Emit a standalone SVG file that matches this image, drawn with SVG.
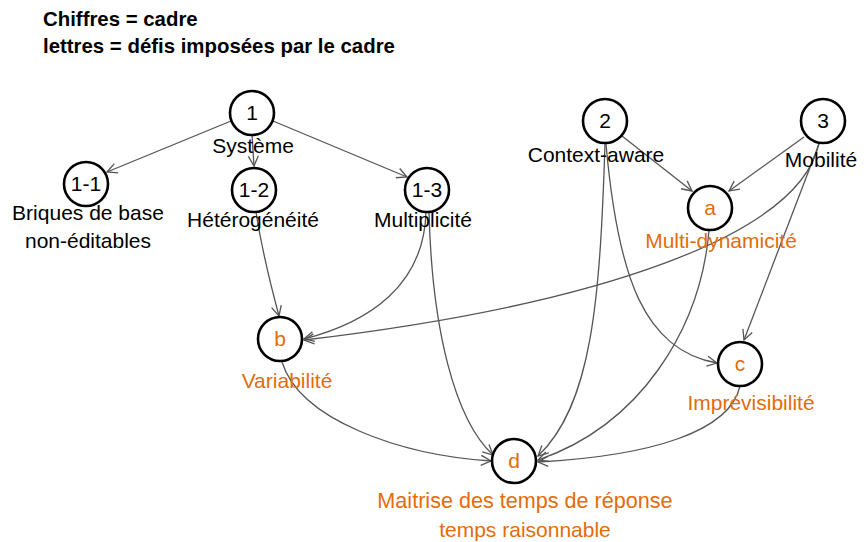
<svg xmlns="http://www.w3.org/2000/svg" width="864" height="542" viewBox="0 0 864 542">
<style>
text{font-family:"Liberation Sans",Arial,sans-serif;font-size:21px;text-anchor:middle;fill:#000}
.hdr{font-weight:bold;font-size:20.4px;text-anchor:start}
.o{fill:#E46C0A}
.big{font-size:21.6px}
circle{fill:#fff;stroke:#000;stroke-width:2.6}
.e path{fill:none;stroke:#555;stroke-width:1.3;marker-end:url(#ar)}
</style>
<defs>
<marker id="ar" viewBox="0 0 12 12" refX="11" refY="6" markerWidth="12" markerHeight="12" markerUnits="userSpaceOnUse" orient="auto">
<path d="M1,1 L11,6 L1,11" fill="none" stroke="#555" stroke-width="1.3"/>
</marker>
</defs>
<rect width="864" height="542" fill="#fff"/>
<text class="hdr" x="43" y="26">Chiffres = cadre</text>
<text class="hdr" x="43" y="53">lettres = défis imposées par le cadre</text>
<g class="e" id="connectors">
<path d="M231,121 L107,172"/>
<path d="M252,135 L254,166"/>
<path d="M273,121 L407,177"/>
<path d="M256,212 C262,250 272,290 279,316"/>
<path d="M426,212 C424,285 370,322 304,339"/>
<path d="M429,212 C432,330 455,420 493,455"/>
<path d="M819,143 C800,235 600,305 304,340"/>
<path d="M819,144 L744,340"/>
<path d="M804,137 L729,191"/>
<path d="M622,136 L692,191"/>
<path d="M605,144 C600,300 592,405 538,456"/>
<path d="M606,144 C618,280 645,350 717,363"/>
<path d="M709,231 C700,330 640,425 538,460"/>
<path d="M740,386 C730,432 650,456 538,462"/>
<path d="M282,362 C300,420 400,455 491,461"/>
</g>
<g id="n1"><circle cx="252" cy="113" r="22"/><text x="252" y="120">1</text><text x="253" y="153">Système</text></g>
<g id="n1-1"><circle cx="86" cy="184" r="22"/><text x="86" y="191">1-1</text><text x="88" y="220">Briques de base</text><text x="88" y="248">non-éditables</text></g>
<g id="n1-2"><circle cx="254" cy="190" r="22"/><text x="254" y="197">1-2</text><text x="253" y="227">Hétérogénéité</text></g>
<g id="n1-3"><circle cx="427" cy="190" r="22"/><text x="427" y="197">1-3</text><text x="423" y="227">Multiplicité</text></g>
<g id="n2"><circle cx="605" cy="121" r="22"/><text x="605" y="128">2</text><text x="596" y="162">Context-aware</text></g>
<g id="n3"><circle cx="823" cy="121" r="22"/><text x="823" y="128">3</text><text x="821" y="167">Mobilité</text></g>
<g id="na"><circle cx="710" cy="208" r="22"/><text class="o" x="710" y="215">a</text><text class="o" x="721" y="248">Multi-dynamicité</text></g>
<g id="nb"><circle cx="280" cy="339" r="22"/><text class="o" x="280" y="346">b</text><text class="o" x="287" y="388">Variabilité</text></g>
<g id="nc"><circle cx="740" cy="364" r="22"/><text class="o" x="740" y="371">c</text><text class="o" x="751" y="410">Imprévisibilité</text></g>
<g id="nd"><circle cx="514" cy="461" r="22"/><text class="o" x="514" y="468">d</text><text class="o big" x="525" y="508">Maitrise des temps de réponse</text><text class="o" x="525" y="537">temps raisonnable</text></g>
</svg>
